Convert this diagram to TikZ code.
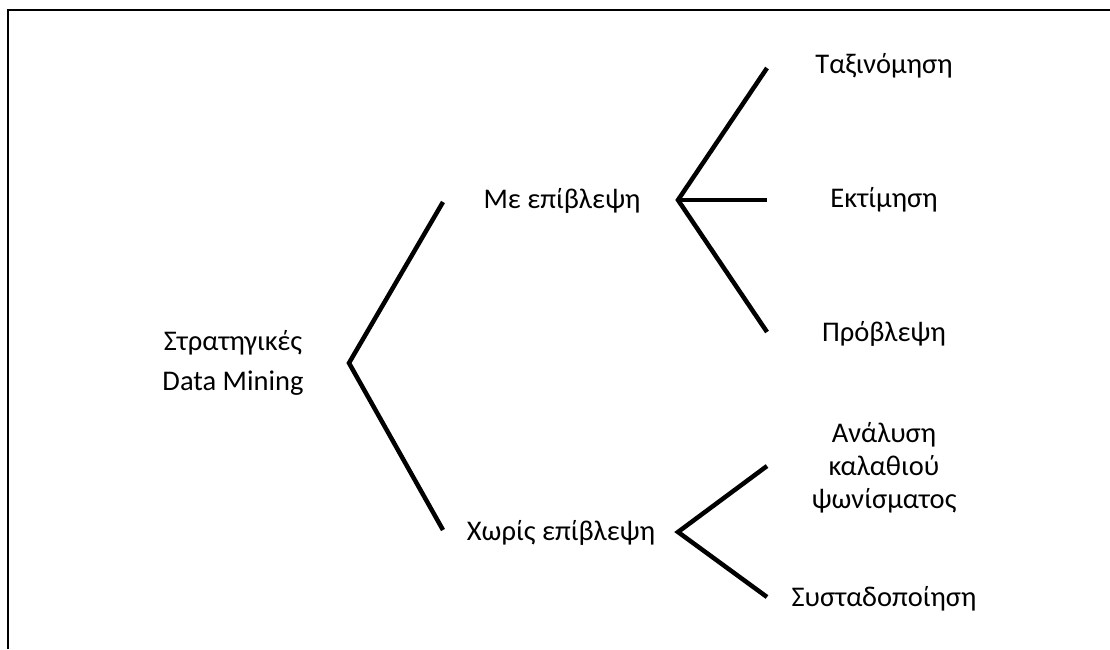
\documentclass[tikz,border=0pt]{standalone}
\usepackage{fontspec}
\setmainfont{Carlito}
\usepackage{tikz}
\usetikzlibrary{positioning, calc}
\tikzset{every node/.append style={align=center}}
\tikzset{
  lbl/.style={inner sep=0pt, font=\fontsize{28.5}{33}\selectfont, align=center},
  branch/.style={line width=4.5pt, black, line cap=butt, line join=miter},
  frame/.style={line width=2pt, black}
}

\begin{document}
\begin{tikzpicture}[x=1pt, y=-1pt]
  \useasboundingbox (0,0) rectangle (1110,649);
  \draw[frame] (8,649) -- (8,10) -- (1110,10);

  % labels
  \node[lbl] (root) at (233,363) {Στρατηγικές\\[7pt]Data Mining};
  \node[lbl] (sup) at (562,201) {Με επίβλεψη};
  \node[lbl] (uns) at (561,533) {Χωρίς επίβλεψη};
  \node[lbl] (cls) at (884,66) {Ταξινόμηση};
  \node[lbl] (est) at (884,200) {Εκτίμηση};
  \node[lbl] (pre) at (884,334) {Πρόβλεψη};
  \node[lbl] (mba) at (884,468) {Ανάλυση\\καλαθιού\\ψωνίσματος};
  \node[lbl] (clu) at (884,599) {Συσταδοποίηση};

  % fork points and tips
  \coordinate (r0) at (349,363);
  \coordinate (r1) at (443,202);
  \coordinate (r2) at (443,530);
  \coordinate (s0) at (678,200);
  \coordinate (s1) at (767,68);
  \coordinate (s2) at (767,200);
  \coordinate (s3) at (767,332);
  \coordinate (u0) at (678,532);
  \coordinate (u1) at (767,466);
  \coordinate (u2) at (767,597);

  \draw[branch] (r1) -- (r0) -- (r2);
  \draw[branch] (s1) -- (s0) -- (s3);
  \draw[branch] (s0) -- (s2);
  \draw[branch] (u1) -- (u0) -- (u2);
\end{tikzpicture}
\end{document}
